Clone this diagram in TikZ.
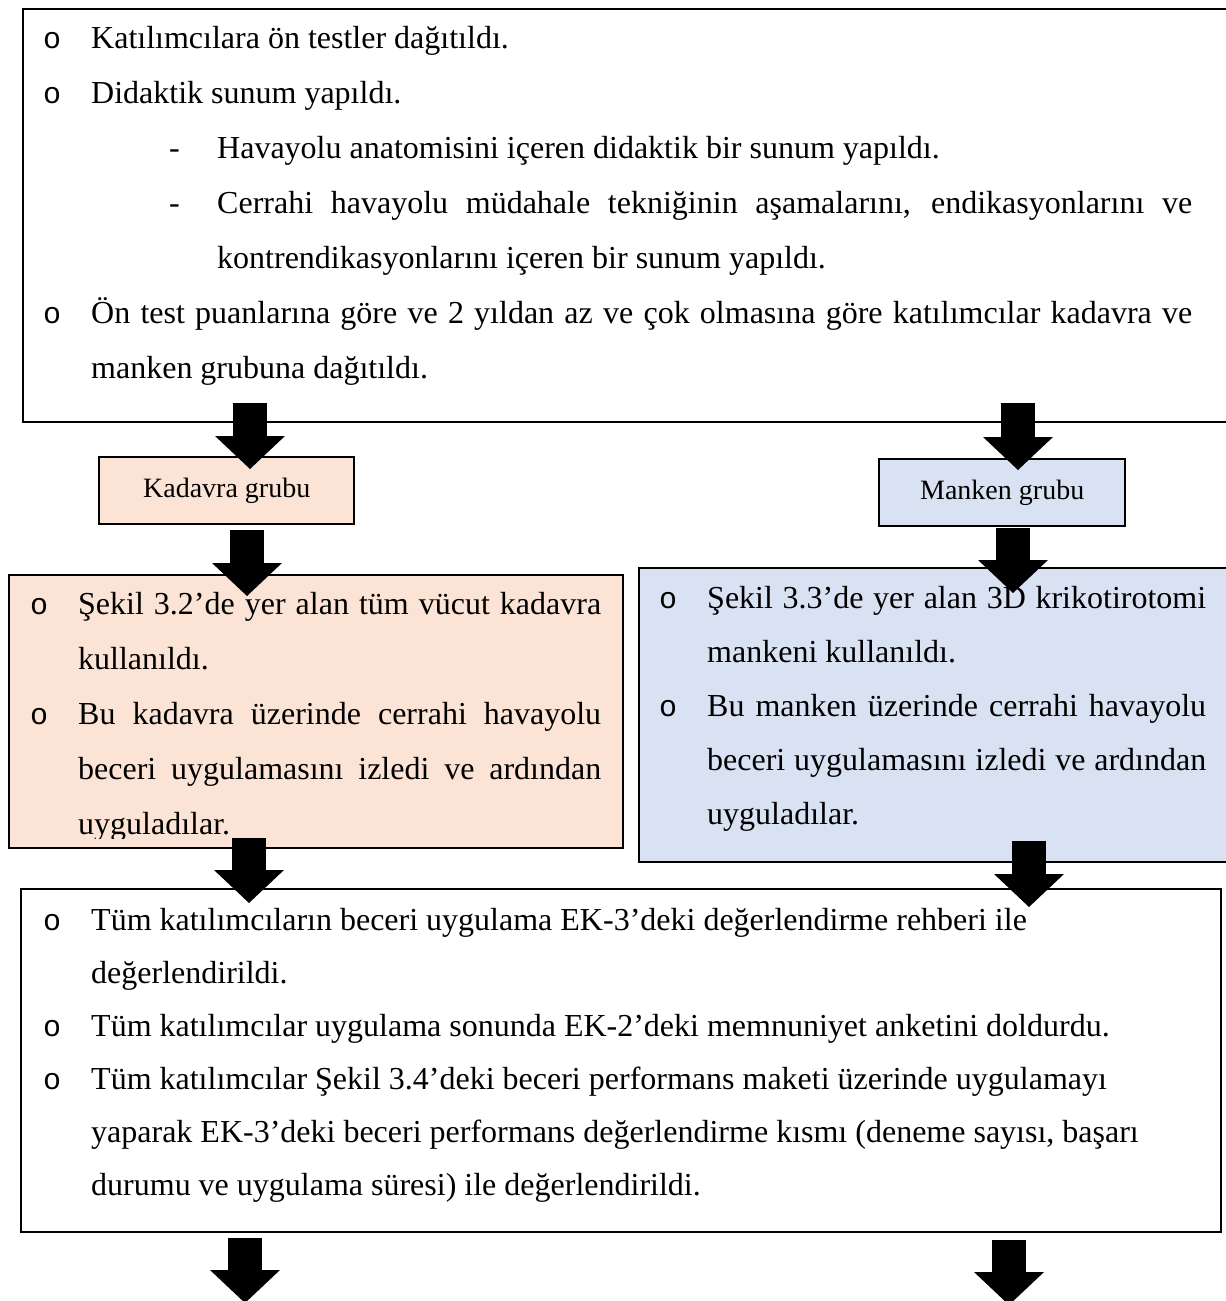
\documentclass[tikz,border=0pt]{standalone}
\usepackage{fontspec}
\setmainfont{Liberation Serif}
\newfontfamily\bulfont{Liberation Mono}
\usetikzlibrary{arrows.meta}
\definecolor{kadfill}{HTML}{FBE4D5}
\definecolor{manfill}{HTML}{D9E2F3}
\hyphenpenalty=10000
\exhyphenpenalty=10000
\tolerance=10000
\newcommand{\bul}[1]{\par\hangindent=48pt\hangafter=1\noindent\makebox[48pt][l]{\bulfont\fontsize{30}{30}\selectfont o}#1}
\newcommand{\dashitem}[1]{\par\leftskip=126pt\hangindent=48pt\hangafter=1\noindent\makebox[48pt][l]{-}#1\par\leftskip=0pt}

\begin{document}
\begin{tikzpicture}[x=1pt,y=-1pt,
  box/.style={draw,line width=2.4pt,inner sep=0pt,anchor=north west},
  txt/.style={inner sep=0pt,anchor=base west},
  grp/.style={box,minimum height=67pt,font=\fontsize{28}{34}\selectfont},
  bigarrow/.style={line width=34pt,-{Triangle[length=33pt,width=70pt,line width=0pt]}}]

  \useasboundingbox (0,0) rectangle (1226,1301);

  \node[box,minimum width=1218pt,minimum height=413pt] (top) at (22,8) {};
  \node[grp,fill=kadfill,minimum width=255pt] (kgrp) at (98,456) {Kadavra grubu};
  \node[grp,fill=manfill,minimum width=246pt] (mgrp) at (878,458) {Manken grubu};
  \node[box,fill=kadfill,minimum width=614pt,minimum height=273pt] (kbox) at (8,574) {};
  \node[box,fill=manfill,minimum width=602pt,minimum height=294pt] (mbox) at (638,567) {};
  \node[box,minimum width=1200pt,minimum height=343pt] (final) at (20,888) {};

  \node[txt] (toptx) at (43,48) {\parbox[t]{1149pt}{\fontsize{32}{55}\selectfont
    \bul{Katılımcılara ön testler dağıtıldı.}
    \bul{Didaktik sunum yapıldı.}
    \dashitem{Havayolu anatomisini içeren didaktik bir sunum yapıldı.}
    \dashitem{Cerrahi havayolu müdahale tekniğinin aşamalarını, endikasyonlarını ve\linebreak kontrendikasyonlarını içeren bir sunum yapıldı.}
    \bul{Ön test puanlarına göre ve 2 yıldan az ve çok olmasına göre katılımcılar kadavra ve\linebreak manken grubuna dağıtıldı.}}};

  \begin{scope}
    \clip (kbox.north west) rectangle ([yshift=11pt]kbox.south east);
    \node[txt] (kadtx) at (30,614) {\parbox[t]{571pt}{\fontsize{32}{55}\selectfont
      \bul{Şekil 3.2’de yer alan tüm vücut kadavra\linebreak kullanıldı.}
      \bul{Bu kadavra üzerinde cerrahi havayolu\linebreak beceri uygulamasını izledi ve ardından\linebreak uyguladılar.}}};
  \end{scope}

  \node[txt] (mantx) at (659,608) {\parbox[t]{547pt}{\fontsize{32}{54}\selectfont
    \bul{Şekil 3.3’de yer alan 3D krikotirotomi\linebreak mankeni kullanıldı.}
    \bul{Bu manken üzerinde cerrahi havayolu\linebreak beceri uygulamasını izledi ve ardından\linebreak uyguladılar.}}};

  \node[txt] (fintx) at (43,930) {\parbox[t]{1165pt}{\fontsize{32}{53}\selectfont\raggedright
    \bul{Tüm katılımcıların beceri uygulama EK-3’deki değerlendirme rehberi ile\newline değerlendirildi.}
    \bul{Tüm katılımcılar uygulama sonunda EK-2’deki memnuniyet anketini doldurdu.}
    \bul{Tüm katılımcılar Şekil 3.4’deki beceri performans maketi üzerinde uygulamayı\newline yaparak EK-3’deki beceri performans değerlendirme kısmı (deneme sayısı, başarı\newline durumu ve uygulama süresi) ile değerlendirildi.}}};

  \coordinate (kad1) at (250,403);
  \coordinate (kad2) at (247,530);
  \coordinate (kad3) at (249,838);
  \coordinate (kad4) at (245,1238);
  \coordinate (kadend) at (245,1303);
  \coordinate (man1) at (1018,403);
  \coordinate (man2) at (1013,528);
  \coordinate (man3) at (1029,841);
  \coordinate (man4) at (1009,1240);
  \coordinate (manend) at (1009,1305);

  \foreach \src/\dst/\ext in {kad1/kgrp/13,kad2/kbox/22,kad3/final/15,man1/mgrp/12,man2/mbox/26,man3/final/19}
    \draw[bigarrow,shorten >=-\ext pt] (\src) -- (\src |- \dst.north);
  \draw[bigarrow] (kad4) -- (kadend);
  \draw[bigarrow] (man4) -- (manend);
\end{tikzpicture}
\end{document}
